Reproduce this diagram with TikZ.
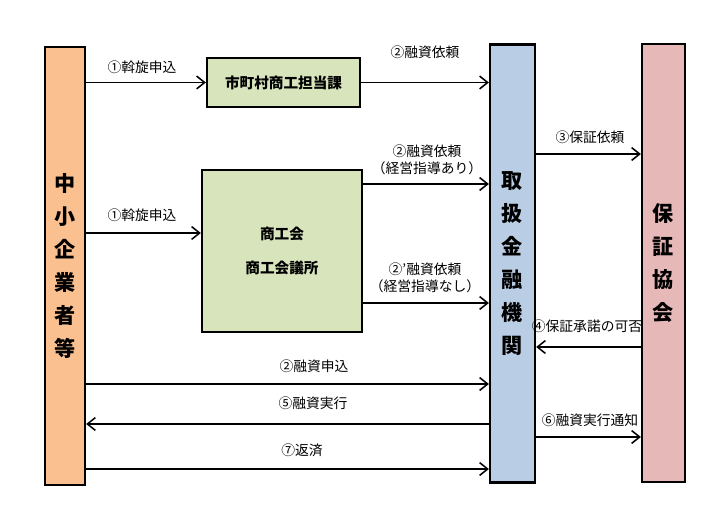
\documentclass[tikz,border=0pt]{standalone}
\usepackage{fontspec}
\setmainfont{Noto Sans CJK JP}
\usepackage{tikz}
\usetikzlibrary{arrows.meta, positioning}
\definecolor{smeorange}{RGB}{250,192,144}
\definecolor{bankblue}{RGB}{185,205,229}
\definecolor{guarpink}{RGB}{230,184,183}
\definecolor{officegreen}{RGB}{215,228,188}
\tikzset{
  bar/.style={rectangle, draw=black, line width=1.6pt, fill=#1,
              minimum height=10.95cm, align=center, inner sep=0pt,
              font=\fontsize{15}{23.5}\selectfont\bfseries},
  office/.style={rectangle, draw=black, line width=1.6pt, fill=officegreen,
                 align=center, inner sep=0pt,
                 font=\fontsize{10.4}{24}\selectfont\bfseries},
  flow/.style={-{Straight Barb[length=2mm,width=3.2mm]}, line width=1.1pt},
  lbl/.style={align=center, inner sep=1pt, font=\fontsize{9.8}{12.5}\selectfont},
}

\begin{document}
\begin{tikzpicture}[x=0.025cm, y=-0.025cm]
  \useasboundingbox (0,0) rectangle (720,510);
  % actors
  \node[bar=smeorange, minimum width=1cm] (sme) at (65,266)
        {中\\小\\企\\業\\者\\等};
  \node[bar=bankblue, minimum width=1.125cm] (bank) at (512.5,263.5)
        {取\\扱\\金\\融\\機\\関};
  \node[bar=guarpink, minimum width=1.075cm] (guar) at (663.5,263)
        {保\\証\\協\\会};
  \node[office, minimum width=3.825cm, minimum height=1.225cm] (muni)
        at (283.5,82.5) {市町村商工担当課};
  \node[office, minimum width=4cm, minimum height=4.05cm] (shoko)
        at (282,251) {商工会\\商工会議所};
  % levels of the arrows
  \coordinate (y1) at (140,233);
  \coordinate (y3) at (600,154);
  \coordinate (ya) at (420,184);
  \coordinate (yn) at (420,303);
  \coordinate (y4) at (600,347);
  \coordinate (y2) at (300,384);
  \coordinate (y5) at (300,424);
  \coordinate (y6) at (600,437);
  \coordinate (y7) at (300,469);
  % arrows
  \draw[flow] (sme.east |- muni) -- (muni);
  \draw[flow] (muni) -- (muni -| bank.west);
  \draw[flow] (sme.east |- y1) -- (shoko.west |- y1);
  \draw[flow] (shoko.east |- ya) -- (bank.west |- ya);
  \draw[flow] (shoko.east |- yn) -- (bank.west |- yn);
  \draw[flow] (bank.east |- y3) -- (guar.west |- y3);
  \draw[flow] (guar.west |- y4) -- (bank.east |- y4);
  \draw[flow] (sme.east |- y2) -- (bank.west |- y2);
  \draw[flow] (bank.west |- y5) -- (sme.east |- y5);
  \draw[flow] (sme.east |- y7) -- (bank.west |- y7);
  \draw[flow] (bank.east |- y6) -- (guar.west |- y6);
  % labels
  \node[lbl] (l1a) at (142,67) {①斡旋申込};
  \node[lbl] (l2a) at (425,52) {②融資依頼};
  \node[lbl] (l1b) at (142,215) {①斡旋申込};
  \node[lbl] (l2b) at (427,160) {②融資依頼\\（経営指導あり）};
  \node[lbl] (l2c) at (425,278) {②’融資依頼\\（経営指導なし）};
  \node[lbl] (l3) at (590,137) {③保証依頼};
  \node[lbl] (l4) at (587,326) {④保証承諾の可否};
  \node[lbl] (l2d) at (314,366) {②融資申込};
  \node[lbl] (l5) at (313,403) {⑤融資実行};
  \node[lbl] (l7) at (302,450) {⑦返済};
  \node[lbl] (l6) at (590,420) {⑥融資実行通知};
\end{tikzpicture}
\end{document}
